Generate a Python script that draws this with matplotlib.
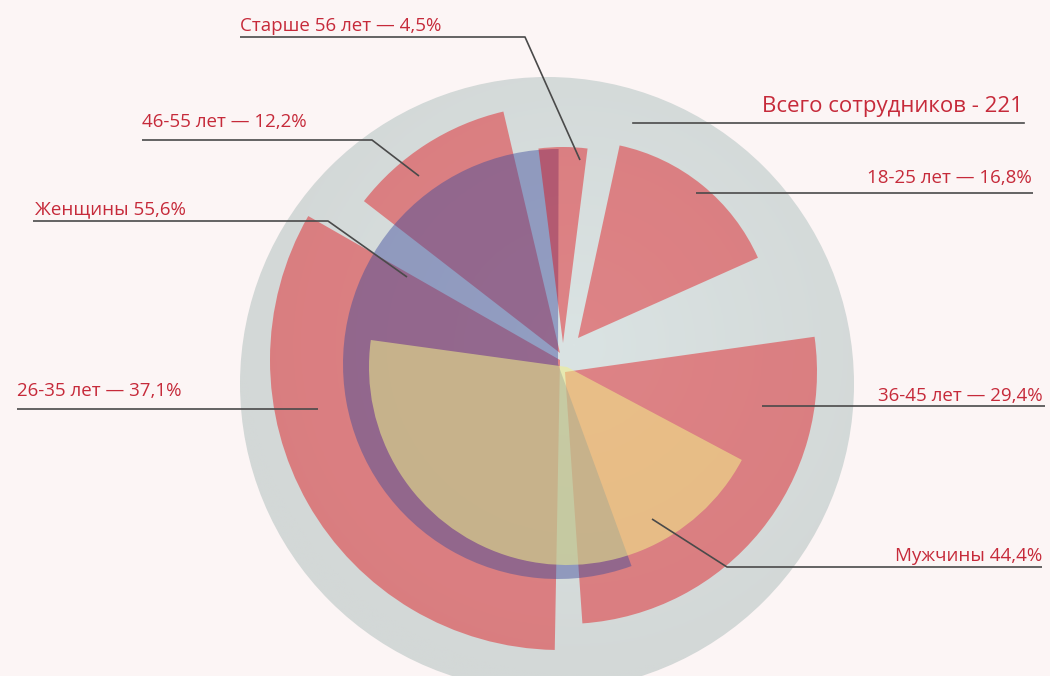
import numpy as np
import matplotlib.pyplot as plt
from matplotlib.patches import Wedge, Circle
from matplotlib.colors import LinearSegmentedColormap

# возрастные группы по часовой стрелке, начиная сверху
age_labels = ["Старше 56 лет", "18-25 лет", "36-45 лет", "26-35 лет", "46-55 лет"]
age_share = [4.5, 16.8, 29.4, 37.1, 12.2]

gender_labels = ["Женщины", "Мужчины"]
gender_share = [55.6, 44.4]

total_staff = 221

# геометрия секторов (в пикселях холста)
age_center = [(563, 343), (578, 338), (565, 372), (560, 360), (560, 353)]
age_radius = [196, 197, 252, 290, 248]
age_gap = [5, 16, 5, 8, 6]          # зазор после каждого сектора, градусы

gender_center = [(558, 364), (567, 367)]
gender_radius = [215, 198]
gender_start = [160, 118]           # угол начала по часовой от верха

BG = "#fcf5f5"
RED = "#e30007"
BLUE = "#3c4a9b"
YELLOW = "#f2f08a"
TEXT = "#c62a3a"
LINE = "#4a4a4a"

plt.rcParams['font.family'] = ['Open Sans', 'DejaVu Sans']

fig = plt.figure(figsize=(10.5, 6.76), dpi=100)
fig.patch.set_facecolor(BG)
ax = fig.add_axes([0, 0, 1, 1])
ax.set_xlim(0, 1050)
ax.set_ylim(676, 0)
ax.axis('off')


def sector(center, r, start, span, **kw):
    # угол по часовой от 12 часов -> угол в данных (ось y перевёрнута)
    return Wedge(center, r, start - 90, start + span - 90, **kw)


# серый фон-круг с лёгким радиальным градиентом к центру
disc = Circle((547, 384), 307, facecolor='none', edgecolor='none', zorder=1)
ax.add_patch(disc)
gx, gy = np.meshgrid(np.linspace(240, 855, 300), np.linspace(77, 691, 300))
dist = np.hypot(gx - 575, gy - 345) / 330
grey_cmap = LinearSegmentedColormap.from_list("grey", ["#dae3e3", "#d3d8d7"])
img = ax.imshow(np.clip(dist, 0, 1), cmap=grey_cmap, extent=(240, 855, 691, 77),
                origin='upper', zorder=1, interpolation='bilinear')
img.set_clip_path(disc)

# возрастные сектора, углы пропорциональны долям
free = 360 - sum(age_gap)
spans = [s / sum(age_share) * free for s in age_share]
start = -spans[0] / 2
for i in range(len(age_share)):
    w = sector(age_center[i], age_radius[i], start, spans[i],
               facecolor=RED, alpha=0.42, edgecolor='none',
               zorder=4 if i == 0 else 2)   # старший сектор лежит поверх синего
    ax.add_patch(w)
    start += spans[i] + age_gap[i]

# пол: женщины (синий) и мужчины (жёлтый)
ax.add_patch(sector(gender_center[0], gender_radius[0], gender_start[0],
                    gender_share[0] / 100 * 360,
                    facecolor=BLUE, alpha=0.45, edgecolor='none', zorder=3))
ax.add_patch(sector(gender_center[1], gender_radius[1], gender_start[1],
                    gender_share[1] / 100 * 360,
                    facecolor=YELLOW, alpha=0.55, edgecolor='none', zorder=5))

ax.set_xlim(0, 1050)
ax.set_ylim(676, 0)


def pct(v):
    return f"{v:.1f}".replace('.', ',') + "%"


labels = [
    (f"{age_labels[0]} — {pct(age_share[0])}", 240, 31, 'left',
     [(240, 37), (525, 37), (580, 160)]),
    (f"{age_labels[4]} — {pct(age_share[4])}", 142, 127, 'left',
     [(142, 140), (372, 140), (419, 176)]),
    (f"{gender_labels[0]} {pct(gender_share[0])}", 35, 214, 'left',
     [(33, 221), (328, 221), (407, 277)]),
    (f"{age_labels[3]} — {pct(age_share[3])}", 17, 396, 'left',
     [(17, 409), (318, 409)]),
    (f"{age_labels[1]} — {pct(age_share[1])}", 1032, 183, 'right',
     [(1033, 193), (696, 193)]),
    (f"{age_labels[2]} — {pct(age_share[2])}", 1043, 401, 'right',
     [(1045, 406), (762, 406)]),
    (f"{gender_labels[1]} {pct(gender_share[1])}", 1042, 561, 'right',
     [(1042, 567), (727, 567), (652, 519)]),
]

for text, x, y, ha, pts in labels:
    ax.text(x, y, text, ha=ha, va='baseline', fontsize=13.5, color=TEXT, zorder=7)
    xs, ys = zip(*pts)
    ax.plot(xs, ys, color=LINE, lw=1.2, zorder=6, solid_capstyle='butt')

ax.text(1023, 112, f"Всего сотрудников - {total_staff}", ha='right', va='baseline',
        fontsize=16, color=TEXT, zorder=7)
ax.plot([633, 1024], [123, 123], color=LINE, lw=1.2, zorder=6)

fig.savefig("out.png", dpi=100, facecolor=BG)
